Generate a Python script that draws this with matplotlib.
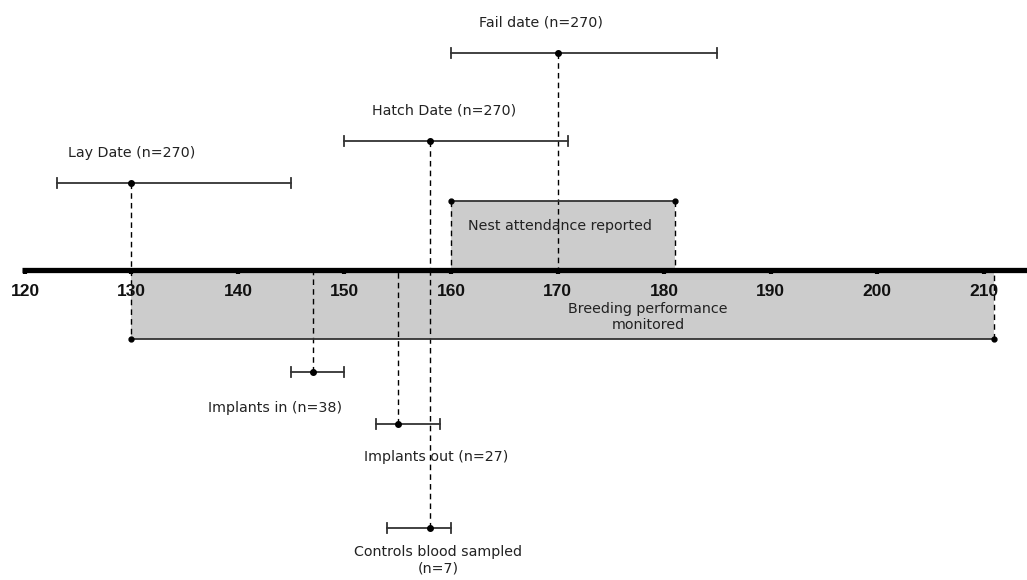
import matplotlib.pyplot as plt
from matplotlib.patches import Rectangle

# event estimates: label, mean, low, high
events = ["Lay Date (n=270)", "Hatch Date (n=270)", "Fail date (n=270)",
          "Implants in (n=38)", "Implants out (n=27)", "Controls blood sampled\n(n=7)"]
means = [130, 158, 170, 147, 155, 158]
lows = [123, 150, 160, 145, 153, 154]
highs = [145, 171, 185, 150, 159, 160]

# periods: label, start, end
periods = ["Breeding performance\nmonitored", "Nest attendance reported"]
starts = [130, 160]
ends = [211, 181]

ticks = [120, 130, 140, 150, 160, 170, 180, 190, 200, 210]

# layout (pixel rows, y axis inverted)
AXIS_Y = 270
bar_y = [183, 141, 53, 372, 424, 528]
label_pos = [(132, 153), (444, 111), (541, 23), (275, 408), (436, 457), (438, 560)]
period_edge = [339, 201]
period_text = [(648, 317), (560, 226)]

fig = plt.figure(figsize=(10.27, 5.8), dpi=100)
ax = fig.add_axes([0, 0, 1, 1])
px = 10.65
x0 = 120 - 25 / px
ax.set_xlim(x0, x0 + 1027 / px)
ax.set_ylim(580, 0)
ax.axis('off')

def xpix(v):
    # convert a pixel column to data for text placement
    return x0 + v / px

gray = '#cccccc'
txt = '#222222'
dash = (0, (4, 3))

# period boxes
for lab, s, e, edge, tp in zip(periods, starts, ends, period_edge, period_text):
    ax.add_patch(Rectangle((s, min(edge, AXIS_Y)), e - s, abs(AXIS_Y - edge),
                           facecolor=gray, edgecolor='none', zorder=1))
    ax.plot([s, e], [edge, edge], color='#333333', lw=1.3, zorder=3)
    ax.plot([s, e], [edge, edge], 'o', color='black', ms=3.5, zorder=4)
    ax.plot([e, e], [edge, AXIS_Y], color='black', lw=1, ls=dash, zorder=2)
    ax.text(xpix(tp[0]), tp[1], lab, ha='center', va='center', fontsize=10.3,
            color=txt, family='DejaVu Sans', linespacing=1.2)
ax.plot([starts[1], starts[1]], [period_edge[1], AXIS_Y], color='black', lw=1,
        ls=dash, zorder=2)

# dashed drop lines from estimates to timeline
for m, y in zip(means, bar_y):
    ax.plot([m, m], [y, AXIS_Y], color='black', lw=1, ls=dash, zorder=2)
ax.plot([means[0], means[0]], [AXIS_Y, period_edge[0]], color='black', lw=1,
        ls=dash, zorder=2)

# range bars
for lab, m, lo, hi, y, lp in zip(events, means, lows, highs, bar_y, label_pos):
    ax.plot([lo, hi], [y, y], color='#333333', lw=1.3, zorder=3)
    ax.plot([lo, lo], [y - 5, y + 5], color='#333333', lw=1.3, zorder=3)
    ax.plot([hi, hi], [y - 5, y + 5], color='#333333', lw=1.3, zorder=3)
    ax.plot([m], [y], 'o', color='black', ms=4, zorder=4)
    ax.text(xpix(lp[0]), lp[1], lab, ha='center', va='center', fontsize=10.3,
            color=txt, family='DejaVu Sans', linespacing=1.2)

# timeline
ax.plot([xpix(22), xpix(1027)], [AXIS_Y, AXIS_Y], color='black', lw=3.8,
        solid_capstyle='butt', zorder=5)
for t in ticks:
    ax.plot([t, t], [AXIS_Y, AXIS_Y + 4], color='black', lw=3, solid_capstyle='butt', zorder=5)
    ax.text(t, 291, str(t), ha='center', va='center', fontsize=12.5,
            fontweight='bold', family='Liberation Sans', color='#111111', zorder=6)

fig.savefig('out.png', dpi=100)
